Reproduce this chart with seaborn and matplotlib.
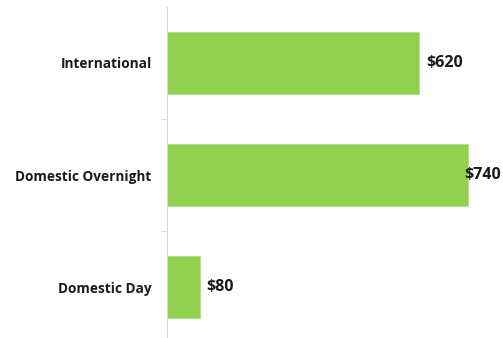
import matplotlib
matplotlib.use("Agg")
import matplotlib.pyplot as plt
import seaborn as sns
import pandas as pd

categories = ["International", "Domestic Overnight", "Domestic Day"]
values = [620, 740, 80]
value_labels = ["$620", "$740", "$80"]

df = pd.DataFrame({"category": categories, "value": values})

sns.set_style("white")
plt.rcParams["font.family"] = ["Open Sans", "DejaVu Sans"]

fig = plt.figure(figsize=(5.03, 3.38), dpi=100)
ax = fig.add_axes([167 / 503, -5 / 338, 1 - 167 / 503, 336 / 338])

sns.barplot(data=df, y="category", x="value", orient="h", color="#92D050",
            saturation=1, width=0.55, edgecolor="#b5e08a", linewidth=0.6, ax=ax)

ax.set_xlim(0, 826)
ax.set_ylim(2.5, -0.5)
ax.set_xlabel("")
ax.set_ylabel("")
ax.set_xticks([])
ax.set_yticks([0, 1, 2])
ax.set_yticklabels(categories, fontsize=9.8, fontweight="bold", color="#1a1a1a")
ax.set_yticks([0.5, 1.5], minor=True)
ax.tick_params(axis="y", which="major", left=False, length=0, pad=11)
ax.tick_params(axis="y", which="minor", left=True, length=4, width=0.8,
               color="#d9d9d9", direction="out")

for s in ["top", "right", "bottom"]:
    ax.spines[s].set_visible(False)
ax.spines["left"].set_color("#d9d9d9")
ax.spines["left"].set_linewidth(0.8)

for i, (v, lab) in enumerate(zip(values, value_labels)):
    ax.annotate(lab, xy=(v, i), xytext=(5, 0), textcoords="offset points",
                va="center", ha="left", fontsize=11.5, fontweight="bold",
                color="#1a1a1a", annotation_clip=False)

# keep labels inside the figure like the reference
fig.canvas.draw()
renderer = fig.canvas.get_renderer()
for t in ax.texts:
    bb = t.get_window_extent(renderer)
    if bb.x1 > fig.bbox.width - 2:
        shift = bb.x1 - (fig.bbox.width - 2)
        x, y = t.xyann
        t.xyann = (x - shift * 72 / fig.dpi, y)

fig.savefig("out.png", dpi=100)
